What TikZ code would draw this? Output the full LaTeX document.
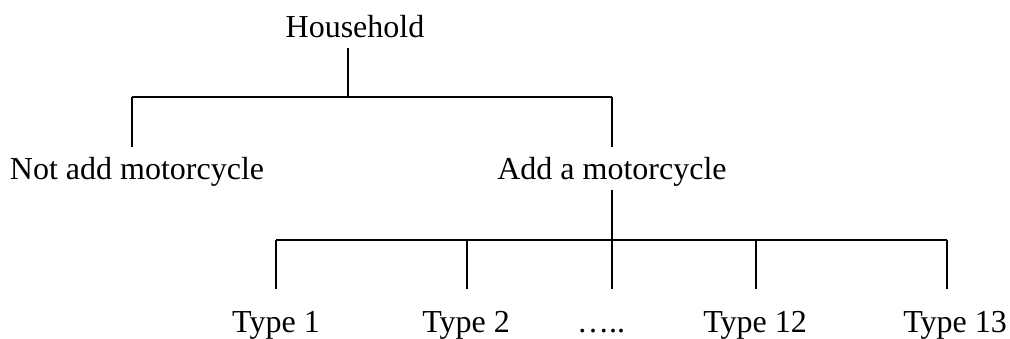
\documentclass[tikz,border=0pt]{standalone}
\usepackage{fontspec}
\setmainfont{Liberation Serif}
\begin{document}
\begin{tikzpicture}[x=0.5pt,y=-0.5pt,
  lbl/.style={inner sep=0pt,outer sep=5.5pt,anchor=base,text height=10.5pt,text depth=0pt,font=\fontsize{16}{19}\selectfont},
  leaf/.style={lbl,outer sep=11pt},
  conn/.style={line width=0.7pt,line cap=butt}]
\useasboundingbox (0,0) rectangle (1010,338);
\node[lbl] (hh) at (355,37) {Household};
\node[lbl] (nam) at (137,179) {Not add motorcycle};
\node[lbl] (am) at (612,179) {Add a motorcycle};
\node[leaf] (t1) at (276,332) {Type 1};
\node[leaf] (t2) at (466,332) {Type 2};
\node[leaf] (td) at (601,332) {…..};
\node[leaf] (t12) at (755,332) {Type 12};
\node[leaf] (t13) at (955,332) {Type 13};
\coordinate (j1) at (348,97);
\coordinate (j1l) at (132,97);
\coordinate (j1r) at (612,97);
\coordinate (j2) at (612,240);
\coordinate (j2l) at (276,240);
\coordinate (j2b) at (467,240);
\coordinate (j2c) at (756,240);
\coordinate (j2r) at (947,240);
\draw[conn] (hh.south -| j1) -- (j1);
\draw[conn] (j1l) -- (j1r);
\draw[conn] (j1l) -- (j1l |- nam.north);
\draw[conn] (j1r) -- (am.north);
\draw[conn] (am.south) -- (j2);
\draw[conn] (j2l) -- (j2r);
\draw[conn] (j2l) -- (t1.north);
\draw[conn] (j2b) -- (j2b |- t2.north);
\draw[conn] (j2) -- (j2 |- td.north);
\draw[conn] (j2c) -- (j2c |- t12.north);
\draw[conn] (j2r) -- (j2r |- t13.north);
\end{tikzpicture}
\end{document}
